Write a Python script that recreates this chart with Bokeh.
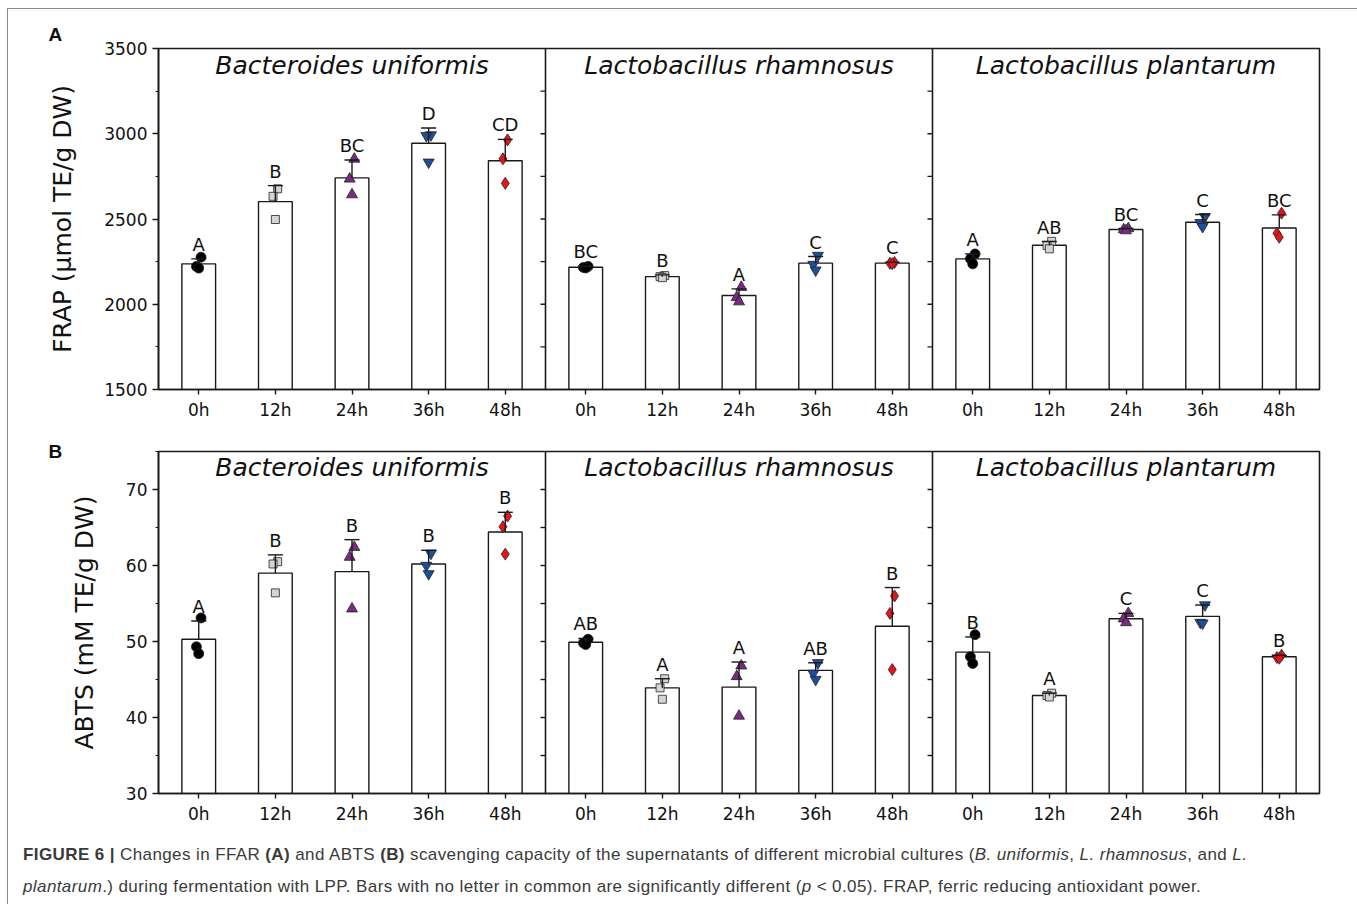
import numpy as np
from bokeh.plotting import figure
from bokeh.models import Range1d, FixedTicker, Whisker, TeeHead, ColumnDataSource, Span, Div
from bokeh.layouts import column
from bokeh.embed import file_html
from bokeh.resources import INLINE
from bokeh.core.properties import value

# ---------------- data ----------------
times = ["0h", "12h", "24h", "36h", "48h"]
species = ["Bacteroides uniformis", "Lactobacillus rhamnosus", "Lactobacillus plantarum"]

# FRAP (umol TE/g DW)
frap_mean_bu = [2237, 2602, 2741, 2944, 2842]
frap_sd_bu = [29, 94, 105, 90, 125]
frap_pts_bu = [[2276, 2222, 2212], [2677, 2633, 2497], [2852, 2735, 2643], [2993, 2989, 2833], [2964, 2853, 2709]]
frap_let_bu = ["A", "B", "BC", "D", "CD"]

frap_mean_lr = [2217, 2162, 2051, 2241, 2241]
frap_sd_lr = [6, 10, 39, 39, 6]
frap_pts_lr = [[2222, 2216, 2213], [2168, 2162, 2156], [2100, 2040, 2015], [2286, 2233, 2200], [2245, 2240, 2238]]
frap_let_lr = ["BC", "B", "A", "C", "C"]

frap_mean_lp = [2266, 2346, 2438, 2481, 2447]
frap_sd_lp = [29, 22, 6, 45, 77]
frap_pts_lp = [[2295, 2266, 2237], [2369, 2345, 2325], [2444, 2438, 2432], [2514, 2478, 2455], [2534, 2416, 2393]]
frap_let_lp = ["A", "AB", "BC", "C", "BC"]

# ABTS (mM TE/g DW)
abts_mean_bu = [50.3, 59.0, 59.2, 60.2, 64.4]
abts_sd_bu = [2.4, 2.4, 4.2, 1.8, 2.6]
abts_pts_bu = [[53.1, 49.3, 48.4], [60.5, 60.2, 56.4], [62.4, 61.1, 54.3], [61.6, 60.0, 58.9], [66.5, 65.1, 61.5]]
abts_let_bu = ["A", "B", "B", "B", "B"]

abts_mean_lr = [49.9, 43.9, 44.0, 46.2, 52.0]
abts_sd_lr = [0.5, 1.2, 3.3, 1.0, 5.1]
abts_pts_lr = [[50.3, 49.8, 49.6], [45.1, 43.9, 42.4], [46.8, 45.4, 40.2], [47.2, 45.8, 45.0], [56.0, 53.7, 46.3]]
abts_let_lr = ["AB", "A", "A", "AB", "B"]

abts_mean_lp = [48.6, 42.9, 53.0, 53.3, 48.0]
abts_sd_lp = [2.0, 0.3, 0.7, 1.5, 0.2]
abts_pts_lp = [[50.9, 48.0, 47.1], [43.2, 42.9, 42.7], [53.7, 53.0, 52.5], [54.8, 52.5, 52.4], [48.2, 47.9, 47.8]]
abts_let_lp = ["B", "A", "C", "C", "B"]

frap_ticks = [1500, 2000, 2500, 3000, 3500]
frap_minor = [1750, 2250, 2750, 3250]
abts_ticks = [30, 40, 50, 60, 70]
abts_minor = [35, 45, 55, 65, 75]

# ---------------- styling ----------------
PANEL_W = 5.05
OFFSET = 0.525
BAR_W = 0.44
INK = "#1a1a1a"
FONT = "DejaVu Sans"
markers = ["circle", "square", "triangle", "inverted_triangle", "diamond"]
fills = ["#000000", "#d4d4d4", "#7b2a83", "#1c4f9c", "#e8141b"]
msizes = [10, 8, 11, 11, 12]
jitter = [0.03, -0.03, 0.0]
FIG_W = 1345


def xpos(panel, i):
    return panel * PANEL_W + OFFSET + i


def make_row(means, sds, pts, lets, ymin, ymax, major, minor, ylabel, title_y,
             height, top, tag, tag_standoff):
    p = figure(width=FIG_W, height=height, x_range=Range1d(0, 3 * PANEL_W),
               y_range=Range1d(ymin, ymax), output_backend="svg",
               toolbar_location=None, min_border_left=150, min_border_right=34,
               min_border_top=top, min_border_bottom=41)
    p.xgrid.visible = False
    p.ygrid.visible = False
    p.outline_line_color = INK
    p.outline_line_width = 1.6
    p.background_fill_color = "white"
    p.border_fill_color = "white"

    # panel tag (A / B) as the figure title
    p.title.text = tag
    p.title.align = "left"
    p.title.offset = -110
    p.title.standoff = tag_standoff
    p.title.text_font = "Liberation Sans"
    p.title.text_font_size = "19px"
    p.title.text_font_style = "bold"
    p.title.text_color = "#111111"

    all_x = []
    for k in range(3):
        xs = [xpos(k, i) for i in range(5)]
        all_x += xs
        upper = [m + s for m, s in zip(means[k], sds[k])]
        p.vbar(x=xs, top=means[k], bottom=ymin, width=BAR_W, fill_color="white",
               line_color=INK, line_width=1.4)
        src = ColumnDataSource(dict(x=xs, lower=means[k], upper=upper))
        w = Whisker(source=src, base="x", lower="lower", upper="upper",
                    dimension="height", line_color=INK, line_width=1.4,
                    lower_head=None,
                    upper_head=TeeHead(size=15, line_color=INK, line_width=1.4),
                    level="glyph")
        p.add_layout(w)
        for i in range(5):
            p.scatter(x=[xs[i] + j for j in jitter], y=pts[k][i], marker=markers[i],
                      size=msizes[i], fill_color=fills[i], line_color="#222222",
                      line_width=0.8)
        p.text(x=xs, y=upper, text=lets[k], text_align="center",
               text_baseline="bottom", y_offset=-4, text_font=value(FONT),
               text_font_size="18px", text_color="#111111")

    centers = [k * PANEL_W + PANEL_W / 2 for k in range(3)]
    p.text(x=centers, y=[title_y] * 3, text=species, text_align="center",
           text_baseline="middle", text_font=value(FONT), text_font_size="25px",
           text_font_style="italic", text_color="#111111")

    for k in (1, 2):
        p.add_layout(Span(location=k * PANEL_W, dimension="height",
                          line_color=INK, line_width=1.6))
        tk = [t for t in major + minor if ymin < t < ymax]
        p.ray(x=[k * PANEL_W] * len(tk), y=tk, length=5, length_units="screen",
              angle=np.pi, line_color=INK, line_width=1.4)

    # axes
    p.yaxis.ticker = FixedTicker(ticks=major, minor_ticks=minor)
    p.yaxis.axis_label = ylabel
    p.yaxis.axis_label_text_font = FONT
    p.yaxis.axis_label_text_font_size = "25px"
    p.yaxis.axis_label_text_font_style = "normal"
    p.yaxis.axis_label_text_color = "#111111"
    p.yaxis.axis_label_standoff = 24
    p.yaxis.major_label_text_font = FONT
    p.yaxis.major_label_text_font_size = "17px"
    p.yaxis.major_label_text_color = "#111111"
    p.yaxis.major_label_standoff = 5
    p.yaxis.major_tick_out = 6
    p.yaxis.major_tick_in = 0
    p.yaxis.minor_tick_out = 3
    p.yaxis.minor_tick_in = 0

    p.xaxis.ticker = FixedTicker(ticks=all_x, minor_ticks=[])
    p.xaxis.major_label_overrides = {x: times[n % 5] for n, x in enumerate(all_x)}
    p.xaxis.major_label_text_font = FONT
    p.xaxis.major_label_text_font_size = "17px"
    p.xaxis.major_label_text_color = "#111111"
    p.xaxis.major_label_standoff = 5
    p.xaxis.major_tick_out = 5
    p.xaxis.major_tick_in = 0
    p.xaxis.minor_tick_line_color = None

    for ax in (p.xaxis[0], p.yaxis[0]):
        ax.axis_line_color = INK
        ax.axis_line_width = 1.6
        ax.major_tick_line_color = INK
        ax.major_tick_line_width = 1.4
        ax.minor_tick_line_color = INK if ax is p.yaxis[0] else None
        ax.minor_tick_line_width = 1.2
    return p


pA = make_row([frap_mean_bu, frap_mean_lr, frap_mean_lp],
              [frap_sd_bu, frap_sd_lr, frap_sd_lp],
              [frap_pts_bu, frap_pts_lr, frap_pts_lp],
              [frap_let_bu, frap_let_lr, frap_let_lp],
              1500, 3500, frap_ticks, frap_minor, "FRAP (µmol TE/g DW)", 3400,
              421, 39, "A", 7)

pB = make_row([abts_mean_bu, abts_mean_lr, abts_mean_lp],
              [abts_sd_bu, abts_sd_lr, abts_sd_lp],
              [abts_pts_bu, abts_pts_lr, abts_pts_lp],
              [abts_let_bu, abts_let_lr, abts_let_lp],
              30, 75, abts_ticks, abts_minor, "ABTS (mM TE/g DW)", 72.9,
              404, 21, "B", -20)

caption_html = (
    '<div style="padding-left:10px; font-family:\'Liberation Sans\', Arial, sans-serif; '
    'font-size:17px; letter-spacing:0.4px; line-height:32px; color:#3a3a3a; white-space:nowrap;">'
    '<b>FIGURE 6 |</b> Changes in FFAR <b>(A)</b> and ABTS <b>(B)</b> scavenging capacity '
    'of the supernatants of different microbial cultures (<i>B. uniformis</i>, '
    '<i>L. rhamnosus</i>, and <i>L.</i><br>'
    '<i>plantarum</i>.) during fermentation with LPP. Bars with no letter in common are '
    'significantly different (<i>p</i> &lt; 0.05). FRAP, ferric reducing antioxidant power.'
    '</div>'
)
caption = Div(text=caption_html, width=FIG_W, height=60)

layout = column(pA, pB, caption, margin=(8, 0, 0, 7),
                styles={"border-top": "1px solid #8c8c8c",
                        "border-left": "1px solid #8c8c8c",
                        "border-right": "1px solid #8c8c8c"})

open("out.html", "w").write(file_html(layout, INLINE))
